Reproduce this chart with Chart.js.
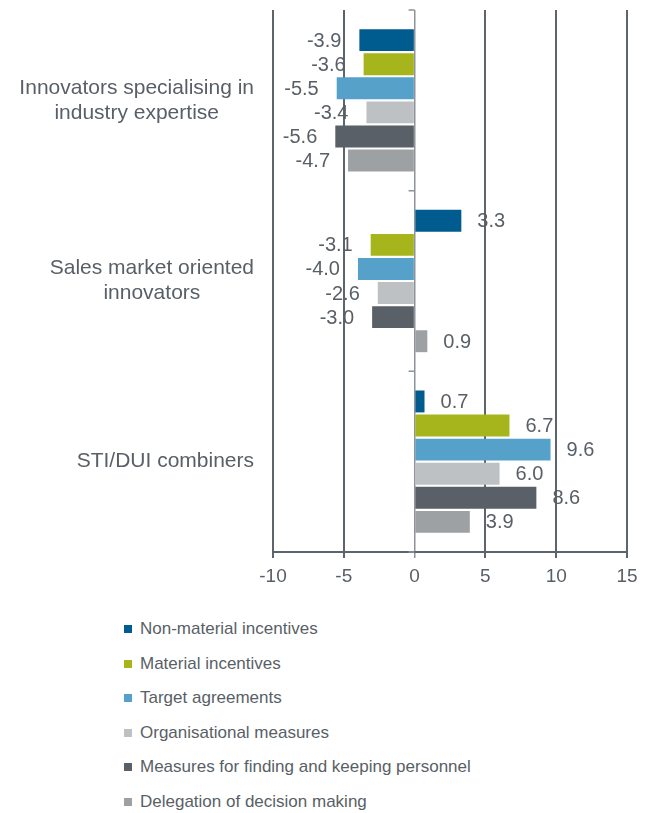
<!DOCTYPE html>
<html>
<head>
<meta charset="utf-8">
<script src="https://cdn.jsdelivr.net/npm/chart.js@4.4.1/dist/chart.umd.min.js"></script>
<style>
  html, body { margin: 0; padding: 0; background: #ffffff; }
  body { width: 650px; height: 813px; position: relative; overflow: hidden; font-family: "Liberation Sans", Arial, sans-serif; }
  #chart { position: absolute; left: 0; top: 0; }
  #legend { position: absolute; left: 124px; top: 612px; }
  .item { height: 34.5px; display: flex; align-items: center; font-size: 17px; color: #595f66; white-space: nowrap; }
  .box { width: 8px; height: 8px; margin-right: 8px; flex: none; }
</style>
</head>
<body>
<canvas id="chart" width="650" height="600"></canvas>
<div id="legend"></div>
<script>
const categories = [
  ["Innovators specialising in", "industry expertise"],
  ["Sales market oriented", "innovators"],
  ["STI/DUI combiners"]
];
const seriesNames = [
  "Non-material incentives",
  "Material incentives",
  "Target agreements",
  "Organisational measures",
  "Measures for finding and keeping personnel",
  "Delegation of decision making"
];
const nonMaterialIncentives = [-3.9, 3.3, 0.7];
const materialIncentives = [-3.6, -3.1, 6.7];
const targetAgreements = [-5.5, -4.0, 9.6];
const organisationalMeasures = [-3.4, -2.6, 6.0];
const findingKeepingPersonnel = [-5.6, -3.0, 8.6];
const delegationDecisionMaking = [-4.7, 0.9, 3.9];
const xTicks = [-10, -5, 0, 5, 10, 15];

const seriesValues = [nonMaterialIncentives, materialIncentives, targetAgreements,
  organisationalMeasures, findingKeepingPersonnel, delegationDecisionMaking];
const seriesColors = ["#005b8e", "#a6b51b", "#56a1c9", "#bec1c3", "#5a6067", "#9ea1a4"];

const textColor = "#595f66";
const fontFamily = "'Liberation Sans', Arial, sans-serif";
const gridColor = "#5d646b";
const zeroColor = "#8d9398";

const datasets = seriesNames.map((name, i) => ({
  label: name,
  data: seriesValues[i],
  backgroundColor: seriesColors[i],
  borderWidth: 0,
  categoryPercentage: 0.8,
  barPercentage: 0.91
}));

const categoryLabelPlugin = {
  id: 'categoryLabels',
  afterDraw(chart) {
    const ctx = chart.ctx;
    const y = chart.scales.y;
    ctx.save();
    ctx.font = "21px " + fontFamily;
    ctx.fillStyle = textColor;
    ctx.textAlign = "center";
    ctx.textBaseline = "middle";
    const rightEdge = chart.chartArea.left - 19;
    const lh = 25;
    categories.forEach((lines, i) => {
      const cy = y.getPixelForValue(i);
      const w = Math.max(...lines.map(l => ctx.measureText(l).width));
      const cx = rightEdge - w / 2;
      const start = cy - (lines.length - 1) * lh / 2;
      lines.forEach((l, j) => ctx.fillText(l, cx, start + j * lh));
    });
    ctx.restore();
  }
};

const dataLabelPlugin = {
  id: 'dataLabels',
  afterDatasetsDraw(chart) {
    const ctx = chart.ctx;
    ctx.save();
    ctx.font = "20px " + fontFamily;
    ctx.fillStyle = textColor;
    ctx.textBaseline = "middle";
    chart.data.datasets.forEach((ds, di) => {
      const meta = chart.getDatasetMeta(di);
      meta.data.forEach((el, i) => {
        const v = ds.data[i];
        const txt = v.toFixed(1);
        if (v < 0) { ctx.textAlign = "right"; ctx.fillText(txt, el.x - 18, el.y + 1); }
        else { ctx.textAlign = "left"; ctx.fillText(txt, el.x + 16, el.y + 1); }
      });
    });
    ctx.restore();
  }
};

const zeroTicksPlugin = {
  id: 'zeroTicks',
  beforeDatasetsDraw(chart) {
    const ctx = chart.ctx;
    const xs = chart.scales.x, ys = chart.scales.y;
    const x0 = xs.getPixelForValue(0);
    const ca = chart.chartArea;
    const bounds = [ca.top];
    for (let i = 0; i < categories.length - 1; i++) {
      bounds.push((ys.getPixelForValue(i) + ys.getPixelForValue(i + 1)) / 2);
    }
    bounds.push(ca.bottom);
    ctx.save();
    ctx.strokeStyle = zeroColor;
    ctx.lineWidth = 1.5;
    ctx.beginPath();
    bounds.forEach(b => { ctx.moveTo(x0 - 6, b); ctx.lineTo(x0, b); });
    ctx.stroke();
    ctx.restore();
  }
};

new Chart(document.getElementById('chart'), {
  type: 'bar',
  data: { labels: categories.map(c => c.join(' ')), datasets },
  options: {
    indexAxis: 'y',
    responsive: false,
    animation: false,
    devicePixelRatio: 1,
    layout: { padding: { top: 10, right: 23, left: 0, bottom: 0 } },
    plugins: { legend: { display: false }, tooltip: { enabled: false } },
    scales: {
      x: {
        type: 'linear',
        min: -10, max: 15,
        afterBuildTicks(s) { s.ticks = xTicks.map(v => ({ value: v })); },
        afterFit(s) { s.height = 48; },
        grid: {
          color: c => (c.tick && c.tick.value === 0) ? zeroColor : gridColor,
          lineWidth: c => (c.tick && c.tick.value === 0) ? 1.5 : 2,
          tickLength: 6,
          drawTicks: true
        },
        border: { display: true, color: gridColor, width: 2 },
        ticks: { color: textColor, font: { family: fontFamily, size: 19 }, padding: 7 }
      },
      y: {
        type: 'category',
        afterFit(s) { s.width = 273; },
        grid: { display: false },
        border: { display: false },
        ticks: { display: false }
      }
    }
  },
  plugins: [categoryLabelPlugin, dataLabelPlugin, zeroTicksPlugin]
});

const legend = document.getElementById('legend');
seriesNames.forEach((name, i) => {
  const row = document.createElement('div');
  row.className = 'item';
  const box = document.createElement('span');
  box.className = 'box';
  box.style.background = seriesColors[i];
  const t = document.createElement('span');
  t.textContent = name;
  row.appendChild(box); row.appendChild(t);
  legend.appendChild(row);
});
</script>
</body>
</html>
